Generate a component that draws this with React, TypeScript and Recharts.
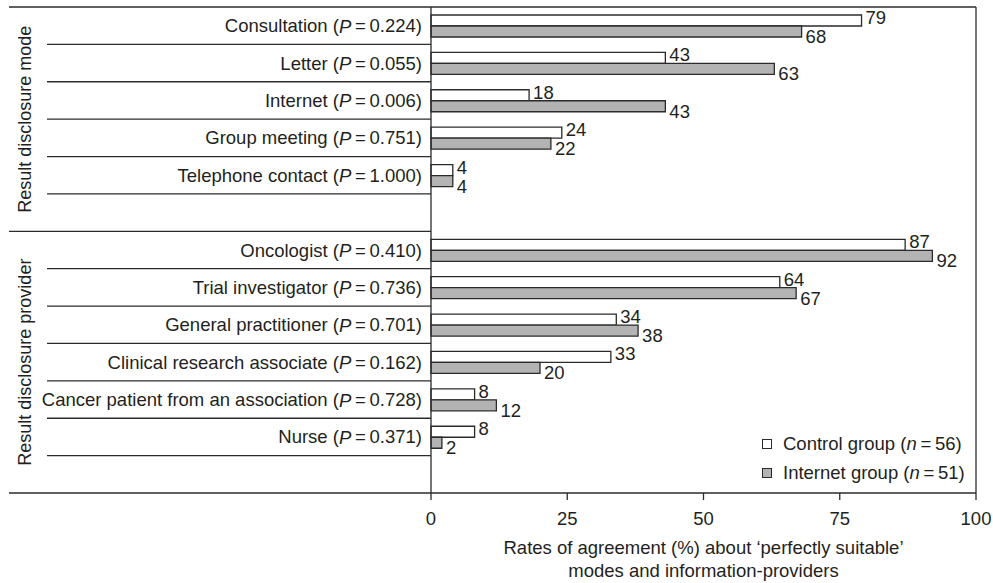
import React from 'react'
import {
  BarChart,
  Bar,
  XAxis,
  YAxis,
  Legend,
  LabelList,
  Label,
  ReferenceLine,
} from 'recharts'

// Response options, grouped as in the questionnaire
const modeCategories = ['Consultation', 'Letter', 'Internet', 'Group meeting', 'Telephone contact']
const modeP = ['0.224', '0.055', '0.006', '0.751', '1.000']
const modeControl = [79, 43, 18, 24, 4]
const modeInternet = [68, 63, 43, 22, 4]

const providerCategories = [
  'Oncologist',
  'Trial investigator',
  'General practitioner',
  'Clinical research associate',
  'Cancer patient from an association',
  'Nurse',
]
const providerP = ['0.410', '0.736', '0.701', '0.162', '0.728', '0.371']
const providerControl = [87, 64, 34, 33, 8, 8]
const providerInternet = [92, 67, 38, 20, 12, 2]

const groupLabels = ['Result disclosure mode', 'Result disclosure provider']
const seriesNames = ['Control group', 'Internet group']
const seriesN = [56, 51]
const xTicks = [0, 25, 50, 75, 100]
const xTitle = ['Rates of agreement (%) about \u2018perfectly suitable\u2019', 'modes and information-providers']

const FONT = '"Liberation Sans", Arial, Helvetica, sans-serif'
const TEXT = '#231f20'
const LINE = '#2b2b2b'
const GREY = '#b3b3b3'
const SERIES_FILL = ['#ffffff', GREY]

// chart geometry
const W = 993
const H = 583
const TOP = 7
const AXIS_X = 431
const RIGHT = 17
const X_AXIS_H = 90
const OUTER_LEFT = 9
const INNER_LEFT = 47

type Row = { name: string; p: string | null; control: number | null; internet: number | null; group: number; groupStart: boolean; groupEnd: boolean; groupSize: number }

function buildGroup(cats: string[], ps: string[], ctrl: number[], inet: number[], group: number): Row[] {
  const size = cats.length + 1
  const rows: Row[] = cats.map((c, i) => ({
    name: c,
    p: ps[i],
    control: ctrl[i],
    internet: inet[i],
    group,
    groupStart: i === 0,
    groupEnd: false,
    groupSize: size,
  }))
  // blank row closing each group
  rows.push({ name: `gap-${group}`, p: null, control: null, internet: null, group, groupStart: false, groupEnd: true, groupSize: size })
  return rows
}

const data: Row[] = [
  ...buildGroup(modeCategories, modeP, modeControl, modeInternet, 0),
  ...buildGroup(providerCategories, providerP, providerControl, providerInternet, 1),
]

const ROW_H = (H - TOP - X_AXIS_H) / data.length

function CategoryTick(props: any) {
  const { y, index } = props
  const row = data[index]
  if (!row) return null
  const bottom = y + ROW_H / 2
  return (
    <g>
      {index === 0 && <line x1={OUTER_LEFT} x2={W - RIGHT} y1={y - ROW_H / 2} y2={y - ROW_H / 2} stroke={LINE} strokeWidth={1.3} />}
      <line x1={row.groupEnd ? OUTER_LEFT : INNER_LEFT} x2={AXIS_X} y1={bottom} y2={bottom} stroke={LINE} strokeWidth={1.3} />
      {row.p && (
        <text x={AXIS_X - 9} y={y} textAnchor="end" dominantBaseline="central" fontFamily={FONT} fontSize={18.5} fill={TEXT}>
          {row.name} (<tspan fontStyle="italic">P</tspan>{'\u2009=\u2009'}{row.p})
        </text>
      )}
      {row.groupStart && (() => {
        const cy = y - ROW_H / 2 + (row.groupSize * ROW_H) / 2
        return (
          <text
            x={25}
            y={cy}
            transform={`rotate(-90, 25, ${cy})`}
            textAnchor="middle"
            dominantBaseline="central"
            fontFamily={FONT}
            fontSize={18}
            fill={TEXT}
          >
            {groupLabels[row.group]}
          </text>
        )
      })()}
    </g>
  )
}

const valueLabel = (dy: number) => (props: any) => {
  const { x, y, width, height, value } = props
  if (value == null) return null
  return (
    <text x={x + width + 4} y={y + height / 2 + dy} dominantBaseline="central" fontFamily={FONT} fontSize={18.5} fill={TEXT}>
      {value}
    </text>
  )
}

function AxisTitle(props: any) {
  const vb = props.viewBox || {}
  const cx = vb.x + vb.width / 2
  return (
    <text textAnchor="middle" fontFamily={FONT} fontSize={18.5} fill={TEXT}>
      <tspan x={cx} y={vb.y + 61}>{xTitle[0]}</tspan>
      <tspan x={cx} y={vb.y + 84}>{xTitle[1]}</tspan>
    </text>
  )
}

function renderLegend() {
  return (
    <div style={{ fontFamily: FONT, fontSize: 18.5, color: TEXT }}>
      {seriesNames.map((name, i) => (
        <div key={name} style={{ display: 'flex', alignItems: 'center', height: 29, whiteSpace: 'nowrap' }}>
          <span
            style={{
              display: 'inline-block',
              width: 8,
              height: 8,
              border: `1.3px solid ${LINE}`,
              background: SERIES_FILL[i],
              marginRight: 11,
            }}
          />
          <span>
            {name} (<i>n</i>{'\u2009=\u2009'}{seriesN[i]})
          </span>
        </div>
      ))}
    </div>
  )
}

export default function App() {
  return (
    <div style={{ position: 'absolute', left: 0, top: 0, width: W, height: H, background: '#fff' }}>
      <BarChart
        width={W}
        height={H}
        data={data}
        layout="vertical"
        margin={{ top: TOP, right: RIGHT, left: 0, bottom: 0 }}
        barGap={0}
      >
        <XAxis
          type="number"
          domain={[0, 100]}
          ticks={xTicks}
          height={X_AXIS_H}
          tickSize={7}
          tickMargin={12}
          axisLine={{ stroke: LINE, strokeWidth: 1.3 }}
          tickLine={{ stroke: LINE, strokeWidth: 1.3 }}
          tick={{ fontSize: 18.5, fill: TEXT, fontFamily: FONT }}
        >
          <Label content={AxisTitle} />
        </XAxis>
        <YAxis
          type="category"
          dataKey="name"
          width={AXIS_X}
          interval={0}
          tickLine={false}
          axisLine={{ stroke: LINE, strokeWidth: 1.3 }}
          tick={CategoryTick}
        />
        <ReferenceLine x={100} stroke={LINE} strokeWidth={1.3} />
        <Legend
          content={renderLegend}
          layout="vertical"
          align="center"
          verticalAlign="middle"
          wrapperStyle={{ left: 762, top: 429, width: 220 }}
        />
        <Bar dataKey="control" name={seriesNames[0]} fill={SERIES_FILL[0]} stroke={LINE} strokeWidth={1.3} barSize={11} isAnimationActive={false}>
          <LabelList dataKey="control" content={valueLabel(-3)} />
        </Bar>
        <Bar dataKey="internet" name={seriesNames[1]} fill={SERIES_FILL[1]} stroke={LINE} strokeWidth={1.3} barSize={11} isAnimationActive={false}>
          <LabelList dataKey="internet" content={valueLabel(5)} />
        </Bar>
      </BarChart>
    </div>
  )
}
